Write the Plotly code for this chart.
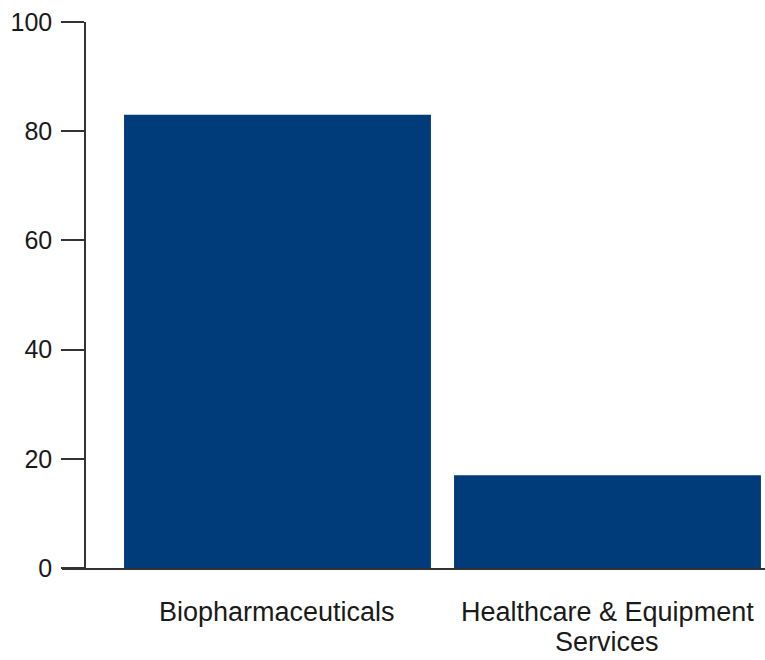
import plotly.graph_objects as go

categories = ["Biopharmaceuticals", "Healthcare & Equipment<br>Services"]
values = [83, 17]
y_ticks = [0, 20, 40, 60, 80, 100]

BAR = "#003b7a"
AX = "#333333"
TXT = "#1a1a1a"
FONT = "Liberation Sans, Arial, Helvetica, sans-serif"

fig = go.Figure()
fig.add_trace(go.Bar(x=categories, y=values, marker=dict(color=BAR, line=dict(width=0)),
                     hoverinfo="x+y"))

W, H = 765, 660
L, R, T, B = 62, 0, 22, 92
plot_w = W - L - R
xr = [-0.653, 1.4773]

# category labels, one text per line so the line spacing matches the reference
for cat in categories:
    for i, line in enumerate(cat.split("<br>")):
        fig.add_annotation(x=cat, xref="x", y=0, yref="paper", text=line,
                           showarrow=False, xanchor="center", yanchor="middle",
                           yshift=-44 - 30 * i,
                           font=dict(family=FONT, size=27, color=TXT))

fig.update_layout(
    width=W, height=H,
    margin=dict(l=L, r=R, t=T, b=B, pad=0, autoexpand=False),
    paper_bgcolor="white", plot_bgcolor="white",
    showlegend=False,
    bargap=0.07,
    font=dict(family=FONT, size=26, color=TXT),
    xaxis=dict(type="category", range=xr, showline=True, linecolor=AX, linewidth=1.5,
               ticks="", showgrid=False, zeroline=False, showticklabels=False,
               automargin=False),
    xaxis2=dict(overlaying="x", range=xr, tickvals=[0.5], ticks="inside", ticklen=13,
                tickcolor=AX, tickwidth=1.5, showticklabels=False, showgrid=False,
                zeroline=False, showline=False, automargin=False),
    yaxis=dict(range=[0, 100], tickvals=y_ticks, anchor="free", position=23 / plot_w,
               showline=True, linecolor=AX, linewidth=1.5, ticks="outside", ticklen=23,
               tickcolor=AX, tickwidth=1.5, showgrid=False, zeroline=False,
               ticklabelstandoff=4, automargin=False,
               tickfont=dict(family=FONT, size=25, color=TXT)),
)
fig.write_html("out.html")
